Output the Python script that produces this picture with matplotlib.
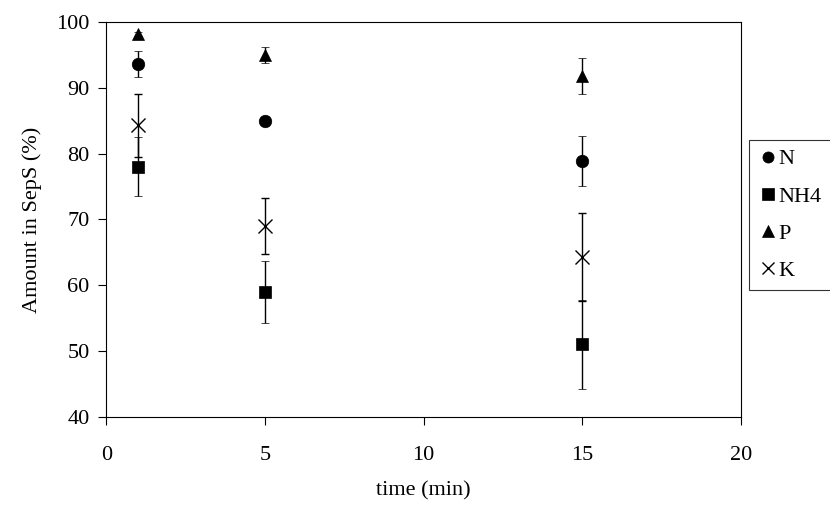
import matplotlib
matplotlib.use("Agg")
import matplotlib.pyplot as plt
from matplotlib.lines import Line2D

times = [1, 5, 15]
N = [93.6, 85.0, 78.8]
N_err = [2.0, 0.4, 3.8]
NH4 = [78.0, 59.0, 51.0]
NH4_err = [4.5, 4.7, 6.7]
P = [98.2, 95.0, 91.8]
P_err = [0.3, 1.2, 2.7]
K = [84.3, 69.0, 64.3]
K_err = [4.8, 4.3, 6.7]

plt.rcParams['font.family'] = ['Liberation Serif', 'DejaVu Serif']
fig = plt.figure(figsize=(8.3, 5.09), dpi=100)
ax = fig.add_axes([0.128, 0.181, 0.765, 0.776])
series = [("N", N, N_err, 'o', 9), ("NH4", NH4, NH4_err, 's', 9),
          ("P", P, P_err, '^', 9), ("K", K, K_err, 'x', 10)]
handles = []
for name, v, e, m, ms in series:
    ax.errorbar(times, v, yerr=e, fmt=m, color='black', ms=ms, mew=1 if m == 'x' else 0.5,
                ecolor='black', elinewidth=1, capsize=3, capthick=1)
    handles.append(Line2D([], [], ls='none', marker=m, color='black', ms=8,
                          mew=1 if m == 'x' else 0.5, label=name))
ax.set_xlim(0, 20)
ax.set_ylim(40, 100)
ax.set_xticks([0, 5, 10, 15, 20])
ax.set_yticks(range(40, 101, 10))
ax.tick_params(direction='out', labelsize=16, length=6)
ax.tick_params(axis='x', pad=15)
ax.tick_params(axis='y', pad=6)
ax.set_xlabel("time (min)", fontsize=16, labelpad=12)
ax.set_ylabel("Amount in SepS (%)", fontsize=16, labelpad=10)
leg = fig.legend(handles=handles, loc='upper left', bbox_to_anchor=(0.902, 0.725), fontsize=16,
                 frameon=True, fancybox=False, edgecolor='black', handletextpad=0.05,
                 handlelength=0.9, borderpad=0.4, labelspacing=0.75, borderaxespad=0)
leg.get_frame().set_linewidth(0.8)
fig.savefig("out.png")
